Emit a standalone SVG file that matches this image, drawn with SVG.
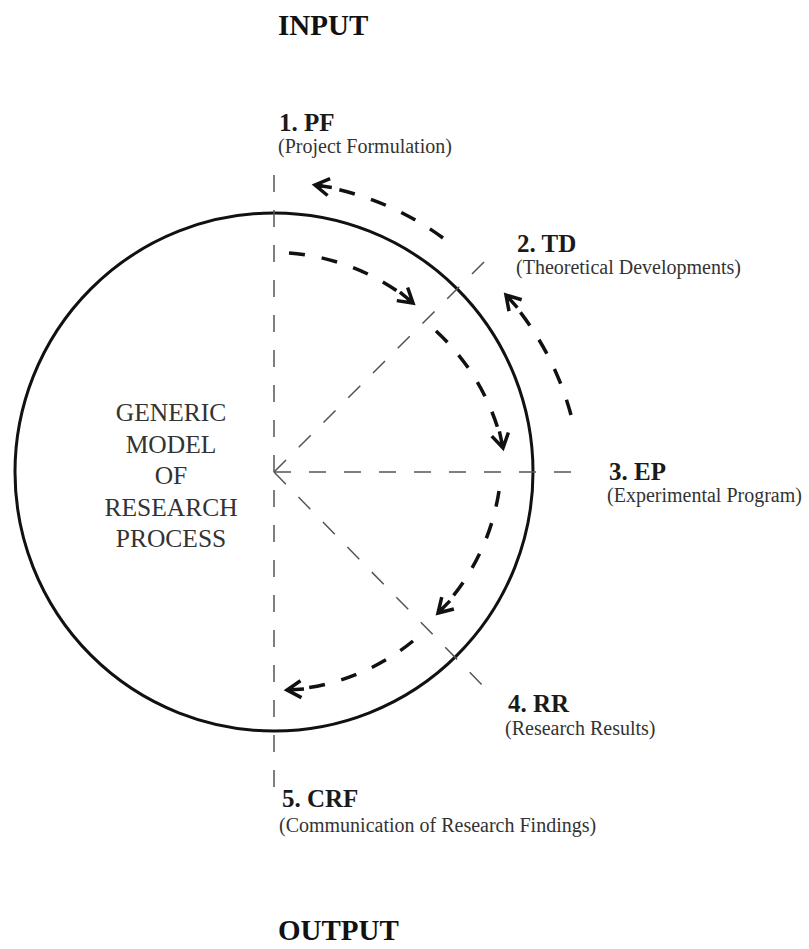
<svg xmlns="http://www.w3.org/2000/svg" width="809" height="949" viewBox="0 0 809 949">
<style>
.t{font-family:"Liberation Serif","Times New Roman",serif;}
.h{font-weight:bold;font-size:29px;fill:#111;}
.lb{font-weight:bold;font-size:25px;fill:#1a1a1a;}
.ls{font-size:20px;fill:#333;}
.c{font-size:25.5px;fill:#333;text-anchor:middle;}
.guide{fill:none;stroke:#555;stroke-width:1.5;stroke-dasharray:17 18;}
.flow{fill:none;stroke:#111;stroke-width:3.5;stroke-dasharray:16 17;}
</style>
<defs>
<marker id="ah" markerUnits="userSpaceOnUse" markerWidth="34" markerHeight="26" viewBox="-28 -13 34 26" refX="0" refY="0" orient="auto">
<path d="M-14,-8.5 L0,0 L-14,8.5 M0,0 L-17,0" fill="none" stroke="#111" stroke-width="3.5" stroke-linecap="butt" stroke-linejoin="miter"/>
</marker>
</defs>
<rect width="809" height="949" fill="#fff"/>
<g id="model">
<circle cx="274" cy="472" r="259" fill="none" stroke="#111" stroke-width="3"/>
<text class="t c" x="171" y="421">GENERIC</text>
<text class="t c" x="171" y="452.5">MODEL</text>
<text class="t c" x="171" y="484">OF</text>
<text class="t c" x="171" y="515.5">RESEARCH</text>
<text class="t c" x="171" y="547">PROCESS</text>
</g>
<g id="guides">
<line class="guide" x1="274" y1="175" x2="274" y2="800"/>
<line class="guide" x1="274" y1="472" x2="578" y2="472"/>
<line class="guide" x1="274" y1="472" x2="489" y2="257"/>
<line class="guide" x1="274" y1="472" x2="489" y2="692"/>
</g>
<g id="connectors">
<path class="flow" marker-end="url(#ah)" d="M289,253 A220 220 0 0 1 413,303"/>
<path class="flow" marker-end="url(#ah)" d="M436,331 A222 222 0 0 1 503,448"/>
<path class="flow" marker-end="url(#ah)" d="M499,491 A222 222 0 0 1 438,613"/>
<path class="flow" marker-end="url(#ah)" d="M413,641 A220 220 0 0 1 287,690"/>
<path class="flow" marker-end="url(#ah)" d="M443,238 A290 290 0 0 0 315,185"/>
<path class="flow" marker-end="url(#ah)" d="M571,415 A295 295 0 0 0 506,295"/>
</g>
<g id="input"><text class="t h" x="278" y="35">INPUT</text></g>
<g id="pf">
<text class="t lb" x="279" y="131">1. PF</text>
<text class="t ls" x="278" y="153">(Project Formulation)</text>
</g>
<g id="td">
<text class="t lb" x="517" y="252">2. TD</text>
<text class="t ls" x="516" y="274">(Theoretical Developments)</text>
</g>
<g id="ep">
<text class="t lb" x="609" y="480">3. EP</text>
<text class="t ls" x="607" y="502">(Experimental Program)</text>
</g>
<g id="rr">
<text class="t lb" x="508" y="712">4. RR</text>
<text class="t ls" x="505" y="735">(Research Results)</text>
</g>
<g id="crf">
<text class="t lb" x="282" y="807">5. CRF</text>
<text class="t ls" x="279" y="832">(Communication of Research Findings)</text>
</g>
<g id="output"><text class="t h" x="278" y="940">OUTPUT</text></g>
</svg>
